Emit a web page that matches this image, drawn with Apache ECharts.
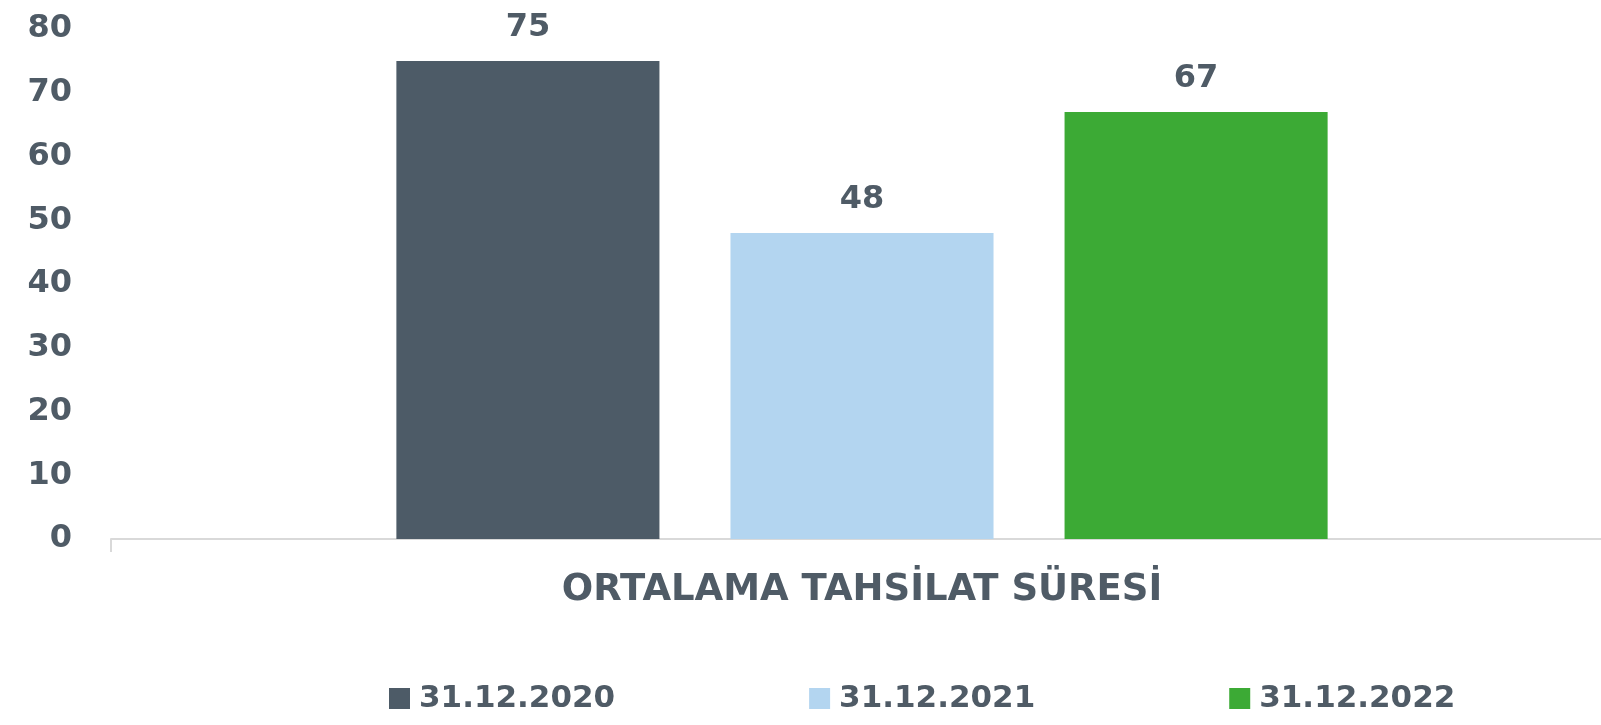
<!DOCTYPE html>
<html>
<head>
<meta charset="utf-8">
<script src="https://cdn.jsdelivr.net/npm/echarts@6/dist/echarts.min.js"></script>
<style>
  html, body { margin: 0; padding: 0; background: #fff; overflow: hidden; }
  /* eksen sağ kenardan biraz taşıyor */
  #chart { width: 1613px; height: 725px; }
</style>
</head>
<body>
<div id="chart"></div>
<script>
// kategori ve seriler
const categories = ["ORTALAMA TAHSİLAT SÜRESİ"];
const seriesNames = ["31.12.2020", "31.12.2021", "31.12.2022"];
const values2020 = [75];
const values2021 = [48];
const values2022 = [67];
const colors = ["#4d5b67", "#b3d5f0", "#3caa35"];

const textColor = "#4f5b66";
const fontFamily = "'DejaVu Sans', sans-serif";

let myChart = echarts.init(document.getElementById("chart"));

let seriesData = [values2020, values2021, values2022].map((vals, i) => ({
  name: seriesNames[i],
  type: "bar",
  data: vals,
  itemStyle: { color: colors[i] },
  barGap: "27%",
  barCategoryGap: "38%",
  label: {
    show: true,
    position: "top",
    distance: 17,
    color: textColor,
    fontSize: 32,
    fontWeight: "bold",
    fontFamily: fontFamily
  }
}));

myChart.setOption({
  animation: false,
  grid: { left: 111, right: 0, top: 29, bottom: 186 },
  legend: {
    data: seriesNames,
    bottom: 6,
    left: 384,
    itemWidth: 21,
    itemHeight: 21,
    itemGap: 194,
    icon: "rect",
    textStyle: { color: textColor, fontSize: 31, fontWeight: "bold", fontFamily: fontFamily, padding: [0, 0, 0, 4] }
  },
  xAxis: {
    type: "category",
    data: categories,
    axisLine: { lineStyle: { color: "#d9d9d9", width: 2 } },
    axisTick: { show: true, length: 13, lineStyle: { color: "#d9d9d9", width: 2 } },
    axisLabel: { color: textColor, fontSize: 37, fontWeight: 600, fontFamily: fontFamily, margin: 33 }
  },
  yAxis: {
    type: "value",
    min: 0,
    max: 80,
    interval: 10,
    splitLine: { show: false },
    axisLine: { show: false },
    axisTick: { show: false },
    axisLabel: { color: textColor, fontSize: 32, fontWeight: "bold", fontFamily: fontFamily, margin: 39 }
  },
  series: seriesData
});
</script>
</body>
</html>
